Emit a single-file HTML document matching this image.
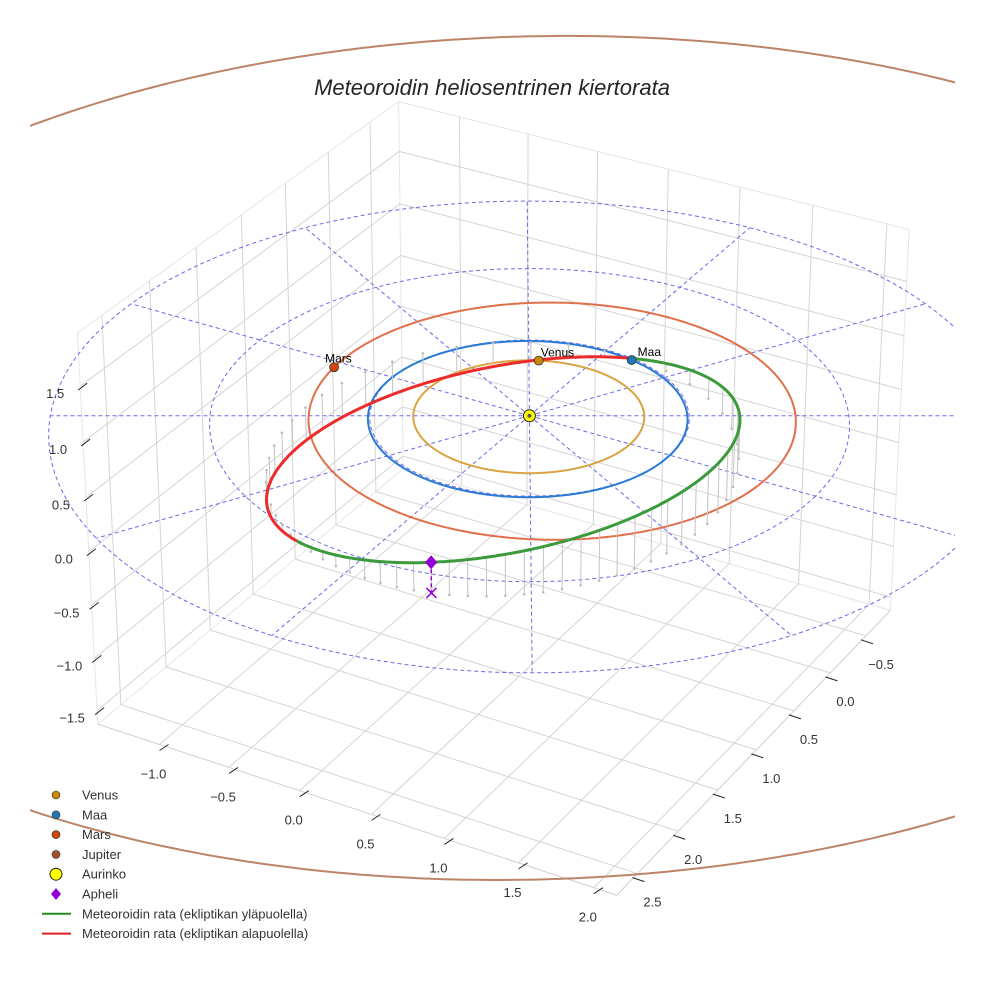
<!DOCTYPE html>
<html><head><meta charset="utf-8"><style>
html,body{margin:0;padding:0;background:#fff;}
svg{display:block;font-family:"Liberation Sans",sans-serif;}
</style></head><body>
<svg id="chart" width="984" height="984" viewBox="0 0 984 984" xmlns="http://www.w3.org/2000/svg">
<defs><clipPath id="axclip"><rect x="30" y="0" width="925" height="984"/></clipPath></defs>
<rect width="984" height="984" fill="#fff"/>
<text x="492" y="95" text-anchor="middle" font-size="22" font-style="italic" fill="#262626">Meteoroidin heliosentrinen kiertorata</text>
<g id="grid"></g>
<g id="plot" clip-path="url(#axclip)"></g>
<g id="ticks"></g>
<g id="legend"></g>
</svg>
<script>
// ---- data ----
const xTicks = [-1.0, -0.5, 0.0, 0.5, 1.0, 1.5, 2.0];
const yTicks = [-0.5, 0.0, 0.5, 1.0, 1.5, 2.0, 2.5];
const zTicks = [-1.5, -1.0, -0.5, 0.0, 0.5, 1.0, 1.5];
const xLim = [-1.45, 2.15];
const yLim = [-0.85, 2.75];
const zLim = [-1.63, 1.97];
const planetNames = ["Venus", "Maa", "Mars", "Jupiter"];
const planetA = [0.723, 1.0, 1.524, 5.37];
const planetE = [0.007, 0.017, 0.093, 0.06];
const planetPeri = [0, -80, 150, 60];
const planetInc = [0, 0, 0, 2.0];
const planetNodeLon = [0, 0, 0, 240];
const planetLon = [-115, -78, 177, null];
const refRadii = [1, 2, 3];
const spokeAngles = [0, 30, 60, 90, 120, 150, 180, 210, 240, 270, 300, 330];
const meteorA = 1.6;
const meteorE = 0.39;
const meteorInc = 15.8;
const meteorNode = -78;
const meteorArgPeri = -27.5;
const stemCount = 60;
// ---- styles ----
const planetOrbitColors = ["#d9a441", "#2b7bd6", "#e0704a", "#bc8468"];
const planetDotColors = ["#c8860b", "#1f77b4", "#d2450f", "#a0522d"];
const labelOffsets = [[2,-4],[6,-4],[-9,-5],[0,0]];

const NS = "http://www.w3.org/2000/svg";
const C30 = Math.cos(Math.PI/6), S30 = 0.5, DEG = Math.PI/180;
const XC = (xLim[0]+xLim[1])/2, YC = (yLim[0]+yLim[1])/2, ZC = (zLim[0]+zLim[1])/2;
const ZS = 0.75 * (xLim[1]-xLim[0]) / (zLim[1]-zLim[0]);
function proj(x, y, z) {
  const rx = x - XC, ry = y - YC, rz = (z - ZC) * ZS;
  const h = rx*C30 - ry*S30;
  const d = rx*S30 + ry*C30;
  const v = -d*0.5 + rz*C30;
  const w = d*C30 + rz*0.5;
  const f = 28/(28 - w);
  return [502 + 165*f*h, 477.8 - 165*f*v];
}
function mk(tag, attrs, parent) {
  const el = document.createElementNS(NS, tag);
  for (const k in attrs) el.setAttribute(k, attrs[k]);
  parent.appendChild(el);
  return el;
}
function pathOf(pts) { return pts.map((p,i)=>(i?"L":"M")+p[0].toFixed(1)+","+p[1].toFixed(1)).join(""); }
const grid = document.getElementById("grid");
const plot = document.getElementById("plot");
const ticksG = document.getElementById("ticks");
const legend = document.getElementById("legend");

function seg(p, q, color, width, parent, name) {
  const a = proj(...p), b = proj(...q);
  const el = mk("line", {x1:a[0], y1:a[1], x2:b[0], y2:b[1], stroke:color, "stroke-width":width}, parent);
  
  
  return el;
}
const [x0,x1] = xLim, [y0,y1] = yLim, [z0,z1] = zLim;
const GC = "#d4d4d4", EC = "#e6e6e6";
seg([x0,y0,z0],[x1,y0,z0],EC,1,grid,'pane-edge');
seg([x0,y0,z0],[x0,y1,z0],EC,1,grid,'pane-edge');
seg([x0,y0,z0],[x0,y0,z1],EC,1,grid,'pane-edge');
seg([x0,y1,z0],[x0,y1,z1],EC,1,grid,'pane-edge');
seg([x1,y0,z0],[x1,y0,z1],EC,1,grid,'pane-edge');
seg([x0,y0,z1],[x0,y1,z1],EC,1,grid,'pane-edge');
seg([x0,y0,z1],[x1,y0,z1],EC,1,grid,'pane-edge');
seg([x0,y1,z0],[x1,y1,z0],"#cfcfcf",1,grid,'axis-line-x');
seg([x1,y0,z0],[x1,y1,z0],"#cfcfcf",1,grid,'axis-line-y');
xTicks.forEach(x => {
  seg([x,y0,z0],[x,y1,z0],GC,1,grid,'floor-grid-x');
  seg([x,y0,z0],[x,y0,z1],GC,1,grid,'wall-grid-x');
});
yTicks.forEach(y => {
  seg([x0,y,z0],[x1,y,z0],GC,1,grid,'floor-grid-y');
  seg([x0,y,z0],[x0,y,z1],GC,1,grid,'wall-grid-y');
});
zTicks.forEach(z => {
  seg([x0,y0,z],[x0,y1,z],GC,1,grid,'wall-grid-z');
  seg([x0,y0,z],[x1,y0,z],GC,1,grid,'wall-grid-z');
});

function fmt(v){ return (v<0?"\u2212":"") + Math.abs(v).toFixed(1); }
function tickMark(P, dx1, dy1, dx2, dy2, name) {
  const el = mk("line", {x1:P[0]+dx1, y1:P[1]+dy1, x2:P[0]+dx2, y2:P[1]+dy2, stroke:"#222", "stroke-width":1}, ticksG);
  
  
}
function tickLabel(P, dx, dy, txt, name) {
  const el = mk("text", {x:P[0]+dx, y:P[1]+dy+5, "text-anchor":"middle", "font-size":13, fill:"#333"}, ticksG);
  el.textContent = txt;
  
  
}
xTicks.forEach(x => { const P = proj(x, y1, z0); tickMark(P,0,6,9,0,'x-tick'); tickLabel(P,-6,29,fmt(x),'x-tick-label'); });
yTicks.forEach(y => { const P = proj(x1, y, z0); tickMark(P,-5,4,7,8,'y-tick'); tickLabel(P,15,28,fmt(y),'y-tick-label'); });
zTicks.forEach(z => { const P = proj(x0, y1, z); tickMark(P,-2,4,7,-3,'z-tick'); tickLabel(P,-25,7,fmt(z),'z-tick-label'); });

refRadii.forEach(r => {
  const pts = [];
  for (let k=0;k<=360;k+=2) pts.push(proj(r*Math.cos(k*DEG), r*Math.sin(k*DEG), 0));
  const el = mk("path", {d:pathOf(pts), fill:"none", stroke:"#6a6ae8", "stroke-width":1, "stroke-dasharray":"4,3"}, plot);
  
  
});
const rMax = refRadii[refRadii.length-1];
spokeAngles.forEach(a => {
  const p = proj(0,0,0), q = proj(rMax*Math.cos(a*DEG), rMax*Math.sin(a*DEG), 0);
  const el = mk("line", {x1:p[0], y1:p[1], x2:q[0], y2:q[1], stroke:"#6a6ae8", "stroke-width":1, "stroke-dasharray":"4,3"}, plot);
  
  
});

function planetXYZ(i, lonDeg) {
  const a = planetA[i], e = planetE[i];
  const nu = (lonDeg - planetPeri[i]) * DEG;
  const r = a*(1-e*e)/(1+e*Math.cos(nu));
  const z = r*Math.sin(planetInc[i]*DEG)*Math.sin((lonDeg - planetNodeLon[i])*DEG);
  return [r*Math.cos(lonDeg*DEG), r*Math.sin(lonDeg*DEG), z];
}
planetNames.forEach((nm, i) => {
  const pts = [];
  for (let k=0;k<=720;k++) { const p = planetXYZ(i, k/2); pts.push(proj(p[0], p[1], p[2])); }
  const el = mk("path", {d:pathOf(pts), fill:"none", stroke:planetOrbitColors[i], "stroke-width":2}, plot);
  
  
});

function meteorXYZ(nu) {
  const p = meteorA*(1-meteorE*meteorE);
  const r = p/(1+meteorE*Math.cos(nu));
  const u = meteorArgPeri*DEG + nu, O = meteorNode*DEG, I = meteorInc*DEG;
  return [r*(Math.cos(O)*Math.cos(u) - Math.sin(O)*Math.sin(u)*Math.cos(I)),
          r*(Math.sin(O)*Math.cos(u) + Math.cos(O)*Math.sin(u)*Math.cos(I)),
          r*Math.sin(u)*Math.sin(I)];
}
for (let k=0;k<stemCount;k++) {
  const M = 2*Math.PI*k/stemCount;
  let E = M; for (let it=0;it<20;it++) E = E - (E - meteorE*Math.sin(E) - M)/(1 - meteorE*Math.cos(E));
  const nu = 2*Math.atan(Math.sqrt((1+meteorE)/(1-meteorE))*Math.tan(E/2));
  const P = meteorXYZ(nu);
  const a = proj(P[0],P[1],P[2]), b = proj(P[0],P[1],0);
  const ln = mk("line", {x1:a[0], y1:a[1], x2:b[0], y2:b[1], stroke:"#c4c4c4", "stroke-width":1}, plot);
  
  
  const dt = mk("circle", {cx:b[0], cy:b[1], r:1.3, fill:"#bdbdbd"}, plot);
  
  
}
{
  let cur = [], curUp = null;
  const flush = () => {
    if (cur.length > 1) {
      const el = mk("path", {d:pathOf(cur), fill:"none", stroke: curUp ? "#3c9a3c" : "#ee2b2b", "stroke-width":3, "stroke-linejoin":"round"}, plot);
      
      
    }
  };
  for (let k=0;k<=720;k++) {
    const P = meteorXYZ(k/2*DEG);
    const up = P[2] >= 0;
    const s = proj(P[0],P[1],P[2]);
    if (curUp === null) curUp = up;
    if (up !== curUp) { cur.push(s); flush(); cur = [s]; curUp = up; }
    else cur.push(s);
  }
  flush();
}
{
  const A = meteorXYZ(Math.PI);
  const a = proj(A[0],A[1],A[2]), b = proj(A[0],A[1],0);
  const dl = mk("line", {x1:a[0], y1:a[1], x2:b[0], y2:b[1], stroke:"#9400d3", "stroke-width":1.5, "stroke-dasharray":"4,3"}, plot);
  
  
  const x = mk("path", {d:`M${b[0]-5},${b[1]-5}L${b[0]+5},${b[1]+5}M${b[0]-5},${b[1]+5}L${b[0]+5},${b[1]-5}`, stroke:"#9400d3", "stroke-width":1.5}, plot);
  
  
  const dm = mk("path", {d:`M${a[0]},${a[1]-7}L${a[0]+6},${a[1]}L${a[0]},${a[1]+7}L${a[0]-6},${a[1]}Z`, fill:"#9400d3"}, plot);
  
  
}
{
  const s = proj(0,0,0);
  const c = mk("circle", {cx:s[0], cy:s[1], r:6, fill:"#ffff00", stroke:"#222", "stroke-width":1}, plot);
  
  
  const c2 = mk("circle", {cx:s[0], cy:s[1], r:2, fill:"#555"}, plot);
  
  
}
planetNames.forEach((nm, i) => {
  if (planetLon[i] === null) return;
  const P3 = planetXYZ(i, planetLon[i]);
  const p = proj(P3[0], P3[1], P3[2]);
  const c = mk("circle", {cx:p[0], cy:p[1], r:4.5, fill:planetDotColors[i], stroke:"#333", "stroke-width":0.8}, plot);
  
  
  const t = mk("text", {x:p[0]+labelOffsets[i][0], y:p[1]+labelOffsets[i][1], "font-size":12, fill:"#000"}, plot);
  t.textContent = nm;
  
  
});
const legendLabels = ["Venus","Maa","Mars","Jupiter","Aurinko","Apheli","Meteoroidin rata (ekliptikan yläpuolella)","Meteoroidin rata (ekliptikan alapuolella)"];
legendLabels.forEach((lab, k) => {
  const y = 795 + k*19.8;
  let m;
  if (k < 4) m = mk("circle", {cx:56, cy:y, r:4, fill:planetDotColors[k], stroke:"#333", "stroke-width":0.6}, legend);
  else if (k === 4) m = mk("circle", {cx:56, cy:y, r:6, fill:"#ffff00", stroke:"#222", "stroke-width":1}, legend);
  else if (k === 5) m = mk("path", {d:`M56,${y-6}L61,${y}L56,${y+6}L51,${y}Z`, fill:"#9400d3"}, legend);
  else m = mk("line", {x1:42, y1:y, x2:71, y2:y, stroke: k===6 ? "#228b22" : "#dd2222", "stroke-width":2}, legend);
  
  
  const t = mk("text", {x:82, y:y+4.5, "font-size":13, fill:"#333"}, legend);
  t.textContent = lab;
  
  
});
</script>
</body></html>
